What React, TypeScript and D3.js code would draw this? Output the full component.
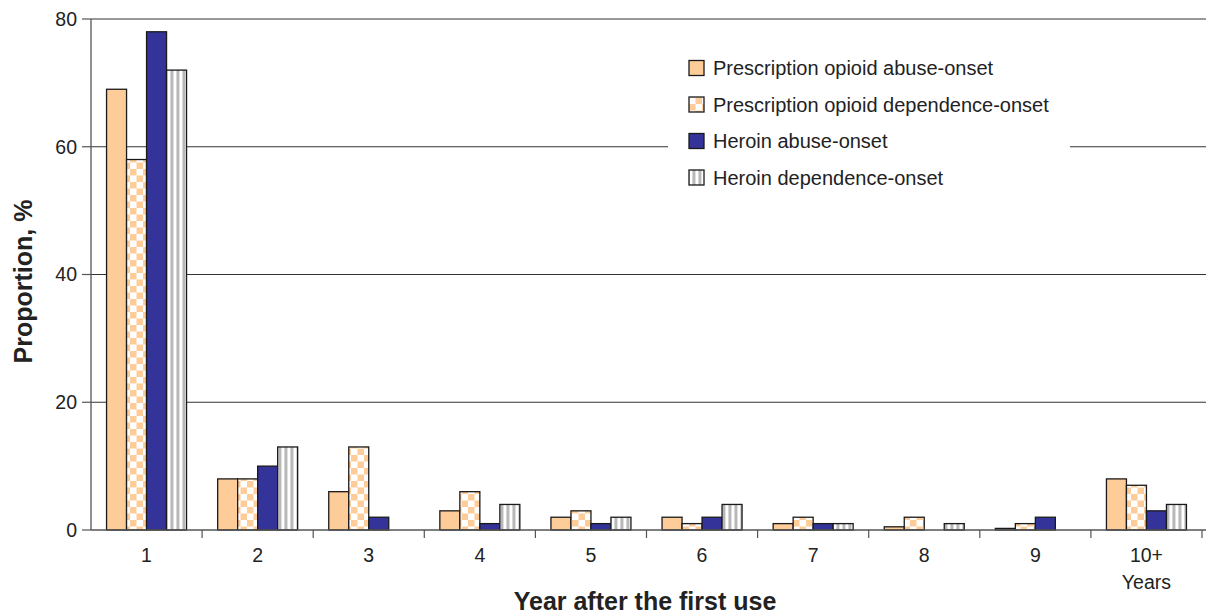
import React from "react";
import * as d3 from "d3";

const categories = ["1", "2", "3", "4", "5", "6", "7", "8", "9", "10+"];
const seriesNames = [
  "Prescription opioid abuse-onset",
  "Prescription opioid dependence-onset",
  "Heroin abuse-onset",
  "Heroin dependence-onset",
];
const rxAbuse = [69, 8, 6, 3, 2, 2, 1, 0.5, 0.25, 8];
const rxDependence = [58, 8, 13, 6, 3, 1, 2, 2, 1, 7];
const heroinAbuse = [78, 10, 2, 1, 1, 2, 1, 0, 2, 3];
const heroinDependence = [72, 13, 0, 4, 2, 4, 1, 1, 0, 4];
const yTicks = [0, 20, 40, 60, 80];

const W = 1206;
const H = 616;
const left = 91;
const right = 1202;
const top = 19;
const bottom = 530;

const FONT = "'Liberation Sans', Arial, Helvetica, sans-serif";

export default function App() {
  const series = [rxAbuse, rxDependence, heroinAbuse, heroinDependence];
  const fills = ["#FECC99", "url(#checker)", "#333399", "url(#stripes)"];
  const x = d3.scaleBand<string>().domain(categories).range([left, right]).paddingInner(0).paddingOuter(0);
  const y = d3.scaleLinear().domain([0, 80]).range([bottom, top]);
  const groupW = 80;
  const inner = d3
    .scaleBand<number>()
    .domain(d3.range(series.length))
    .range([0, groupW]);

  return (
    <svg
      width={W}
      height={H}
      style={{ position: "absolute", left: 0, top: 0, background: "#fff" }}
      fontFamily={FONT}
    >
      <defs>
        <pattern id="checker" width={13} height={13} patternUnits="userSpaceOnUse">
          <rect width={13} height={13} fill="#ffffff" />
          <rect x={0} y={0} width={6.5} height={6.5} fill="#FECC99" />
          <rect x={6.5} y={6.5} width={6.5} height={6.5} fill="#FECC99" />
        </pattern>
        <pattern id="stripes" width={6} height={6} patternUnits="userSpaceOnUse">
          <rect width={6} height={6} fill="#ffffff" />
          <rect x={2} width={1} height={6} fill="#d6d6d6" />
          <rect x={3} width={2} height={6} fill="#b8b8b8" />
          <rect x={5} width={1} height={6} fill="#e0e0e0" />
        </pattern>
      </defs>

      {/* gridlines */}
      {yTicks.filter((t) => t > 0).map((t) => (
        <line key={t} x1={left} x2={W} y1={y(t)} y2={y(t)} stroke="#333" strokeWidth={1} />
      ))}

      {/* legend box (covers grid) */}
      <rect x={668} y={52} width={402} height={142} fill="#fff" />

      {/* bars */}
      {series.map((vals, si) =>
        vals.map((v, ci) => {
          if (v <= 0) return null;
          const bx = (x(categories[ci]) as number) + (x.bandwidth() - groupW) / 2 + (inner(si) as number);
          return (
            <rect
              key={`${si}-${ci}`}
              x={bx}
              y={y(v)}
              width={inner.bandwidth()}
              height={bottom - y(v)}
              fill={fills[si]}
              stroke="#1a1a1a"
              strokeWidth={1.3}
            />
          );
        })
      )}

      {/* y axis */}
      <line x1={left} x2={left} y1={top} y2={bottom} stroke="#555" strokeWidth={1.3} />
      {yTicks.map((t) => (
        <g key={t}>
          <line x1={left - 9} x2={left} y1={y(t)} y2={y(t)} stroke="#555" strokeWidth={1.2} />
          <text x={left - 14} y={y(t)} dy="0.35em" textAnchor="end" fontSize={19.5} fill="#222">
            {t}
          </text>
        </g>
      ))}

      {/* x axis */}
      <line x1={left} x2={W} y1={bottom} y2={bottom} stroke="#555" strokeWidth={1.3} />
      {categories.map((c, i) => (
        <g key={c}>
          {i > 0 && (
            <line
              x1={x(c) as number}
              x2={x(c) as number}
              y1={bottom}
              y2={bottom + 8}
              stroke="#555"
              strokeWidth={1.2}
            />
          )}
          <text
            x={(x(c) as number) + x.bandwidth() / 2}
            y={562}
            textAnchor="middle"
            fontSize={19.5}
            fill="#222"
          >
            {c}
          </text>
        </g>
      ))}
      <text
        x={(x("10+") as number) + x.bandwidth() / 2}
        y={589}
        textAnchor="middle"
        fontSize={19.5}
        fill="#222"
      >
        Years
      </text>
      <line x1={right} x2={right} y1={bottom} y2={bottom + 8} stroke="#555" strokeWidth={1.2} />

      {/* axis titles */}
      <text x={645} y={610} textAnchor="middle" fontSize={25} fontWeight="bold" fill="#222">
        Year after the first use
      </text>
      <text
        transform={`translate(32,${(top + bottom) / 2 + 7}) rotate(-90)`}
        textAnchor="middle"
        fontSize={25}
        fontWeight="bold"
        fill="#222"
      >
        Proportion, %
      </text>

      {/* legend */}
      {seriesNames.map((n, i) => {
        const ly = 68 + i * 36.5;
        return (
          <g key={n}>
            <rect
              x={689}
              y={ly - 7.5}
              width={15}
              height={15}
              fill={fills[i]}
              stroke="#1a1a1a"
              strokeWidth={1.3}
            />
            <text x={713} y={ly} dy="0.35em" fontSize={20} fill="#222">
              {n}
            </text>
          </g>
        );
      })}
    </svg>
  );
}
